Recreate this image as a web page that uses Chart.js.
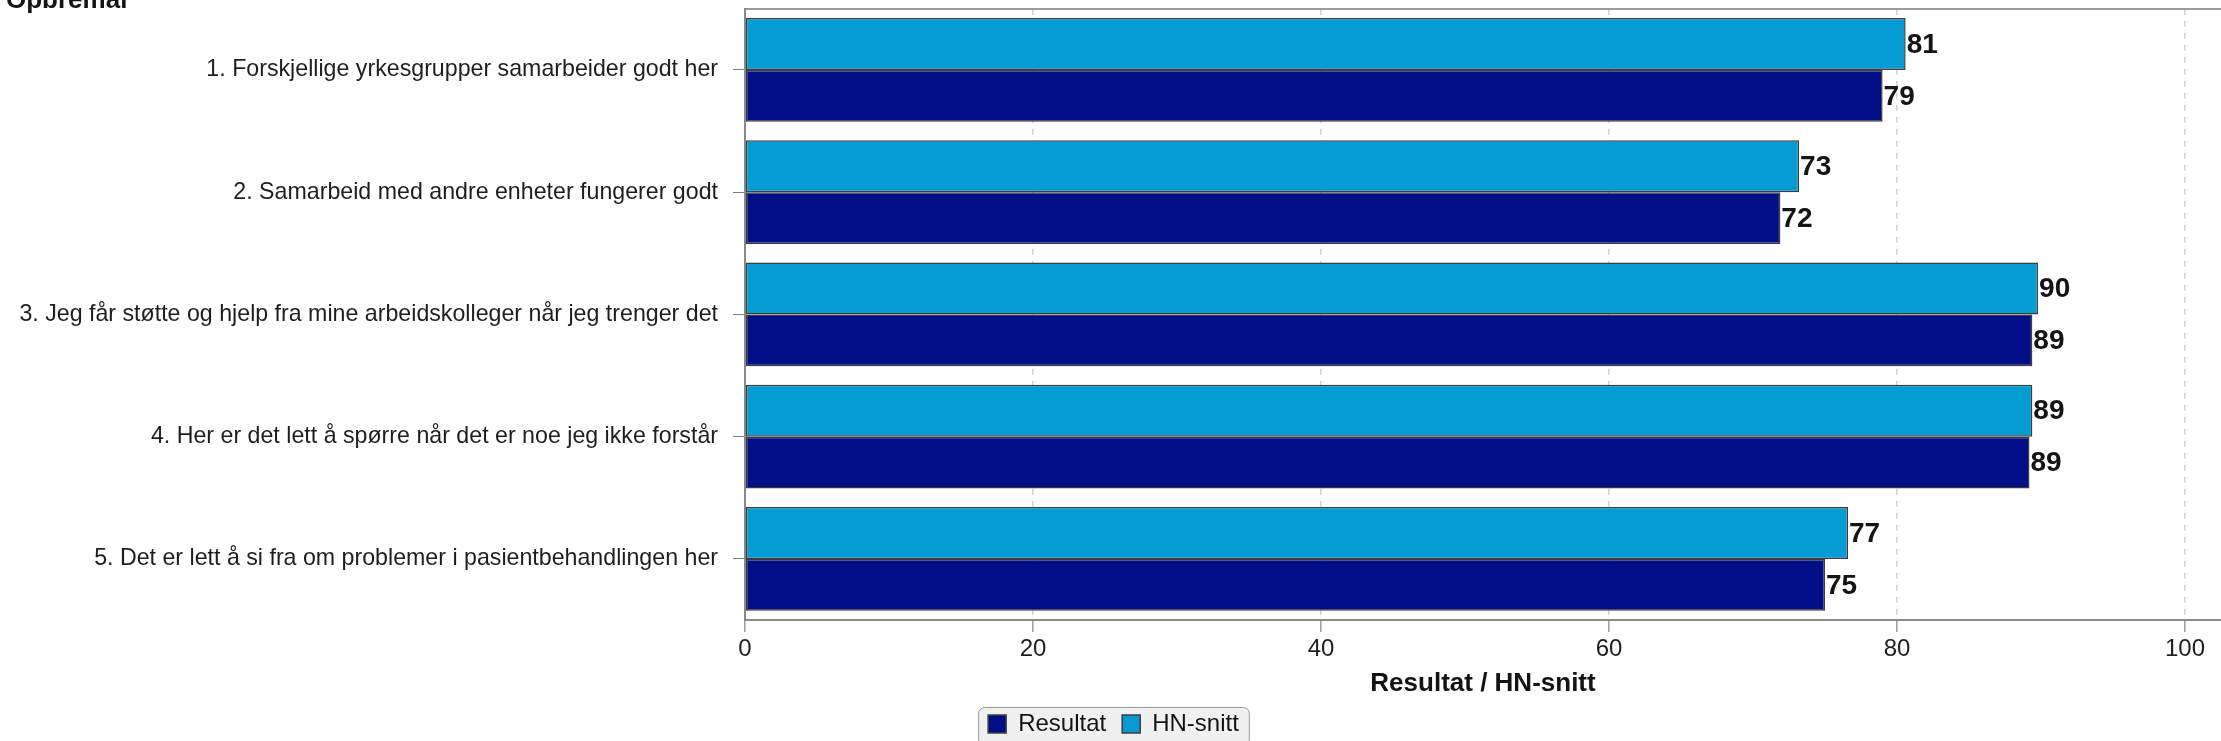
<!DOCTYPE html>
<html>
<head>
<meta charset="utf-8">
<script src="https://cdn.jsdelivr.net/npm/chart.js@4/dist/chart.umd.min.js"></script>
<style>
  html, body { margin: 0; padding: 0; background: #ffffff; overflow: hidden; }
  #wrap { width: 2221px; height: 741px; position: relative; }
  canvas { display: block; }
</style>
</head>
<body>
<div id="wrap"><canvas id="chart"></canvas></div>
<script>
// ---- Data ----
const chartTitle = 'Opbremal';
const categories = [
  '1. Forskjellige yrkesgrupper samarbeider godt her',
  '2. Samarbeid med andre enheter fungerer godt',
  '3. Jeg får støtte og hjelp fra mine arbeidskolleger når jeg trenger det',
  '4. Her er det lett å spørre når det er noe jeg ikke forstår',
  '5. Det er lett å si fra om problemer i pasientbehandlingen her'
];
const seriesNames = ['HN-snitt', 'Resultat'];
const hnSnitt = [80.6, 73.2, 89.8, 89.4, 76.6];
const resultat = [79.0, 71.9, 89.4, 89.2, 75.0];
const xTickValues = [0, 20, 40, 60, 80, 100];
const xMin = 0;
const xMax = 102.5;
const xAxisTitle = 'Resultat / HN-snitt';

// ---- Styling ----
const FONT = '"Liberation Sans", Arial, Helvetica, sans-serif';
const colHN = '#049cd2';
const colRes = '#000f88';
const barBorder = '#3c3c3c';

// Value labels drawn at the library-computed bar ends
const valueLabels = {
  id: 'valueLabels',
  afterDatasetsDraw(chart) {
    const ctx = chart.ctx;
    ctx.save();
    ctx.font = 'bold 28px ' + FONT;
    ctx.fillStyle = '#141414';
    ctx.textAlign = 'left';
    ctx.textBaseline = 'middle';
    chart.data.datasets.forEach((ds, i) => {
      const meta = chart.getDatasetMeta(i);
      meta.data.forEach((el, j) => {
        const p = el.getProps(['x', 'y'], true);
        ctx.fillText(String(Math.round(ds.data[j])), p.x + 1, p.y + 1);
      });
    });
    ctx.restore();
  }
};

// Legend background box (legend itself has no frame option)
const legendFrame = {
  id: 'legendFrame',
  beforeDraw(chart) {
    const lg = chart.legend;
    if (!lg || !lg.legendHitBoxes || !lg.legendHitBoxes.length) return;
    const hb = lg.legendHitBoxes;
    let l = Infinity, r = -Infinity, t = Infinity, b = -Infinity;
    hb.forEach(h => {
      l = Math.min(l, h.left); r = Math.max(r, h.left + h.width);
      t = Math.min(t, h.top); b = Math.max(b, h.top + h.height);
    });
    const x = l - 10, y = t - 5, w = (r - l) + 20, h = (b - t) + 14;
    const ctx = chart.ctx;
    ctx.save();
    ctx.beginPath();
    if (ctx.roundRect) ctx.roundRect(x + 0.5, y + 0.5, w, h, 6); else ctx.rect(x + 0.5, y + 0.5, w, h);
    ctx.fillStyle = '#f0f0f0';
    ctx.fill();
    ctx.lineWidth = 1;
    ctx.strokeStyle = '#9a9a9a';
    ctx.stroke();
    ctx.restore();
  }
};

new Chart(document.getElementById('chart'), {
  type: 'bar',
  data: {
    labels: categories,
    datasets: [
      { label: seriesNames[0], data: hnSnitt, backgroundColor: colHN, borderColor: barBorder, borderWidth: 1.5, borderSkipped: false },
      { label: seriesNames[1], data: resultat, backgroundColor: colRes, borderColor: barBorder, borderWidth: 1.5, borderSkipped: false }
    ]
  },
  options: {
    indexAxis: 'y',
    responsive: true,
    maintainAspectRatio: false,
    animation: false,
    events: [],
    layout: { padding: { left: 6, right: 0, top: -6.8, bottom: -5 } },
    datasets: { bar: { categoryPercentage: 0.85, barPercentage: 1.0 } },
    font: { family: FONT },
    scales: {
      x: {
        type: 'linear',
        position: 'bottom',
        min: xMin,
        max: xMax,
        afterBuildTicks(scale) { scale.ticks = xTickValues.map(v => ({ value: v })); },
        afterFit(scale) { scale.height = 76; scale.paddingLeft = 0; scale.paddingRight = 0; },
        grid: {
          display: true,
          drawOnChartArea: true,
          color: '#d2d2d2',
          lineWidth: 1.5,
          drawTicks: true,
          tickLength: 12,
          tickColor: '#a0a0a0',
          tickWidth: 1.5,
          tickBorderDash: []
        },
        border: { display: true, color: '#8a8a8a', width: 2, dash: [6, 6] },
        ticks: {
          padding: 3,
          color: '#1e1e1e',
          font: { family: FONT, size: 24 },
          maxRotation: 0,
          autoSkip: false
        },
        title: {
          display: true,
          text: xAxisTitle,
          color: '#141414',
          font: { family: FONT, size: 26, weight: 'bold', lineHeight: 0.9 },
          padding: { top: 0, bottom: 0 }
        }
      },
      x2: {
        type: 'linear',
        position: 'top',
        min: xMin,
        max: xMax,
        display: true,
        afterFit(scale) { scale.height = 0; scale.paddingLeft = 0; scale.paddingRight = 0; },
        grid: { display: false, drawTicks: false, drawOnChartArea: false },
        ticks: { display: false },
        border: { display: true, color: '#9a9a9a', width: 2 }
      },
      y: {
        type: 'category',
        position: 'left',
        offset: true,
        afterFit(scale) { scale.width = 739; scale.paddingTop = 0; scale.paddingBottom = 0; },
        grid: {
          display: true,
          drawOnChartArea: false,
          offset: false,
          drawTicks: true,
          tickLength: 12,
          tickColor: '#808080',
          tickWidth: 1,
          color: '#808080'
        },
        border: { display: true, color: '#8a8a8a', width: 2 },
        ticks: {
          padding: 15,
          color: '#1e1e1e',
          font: { family: FONT, size: 23.2 },
          autoSkip: false
        }
      }
    },
    plugins: {
      title: {
        display: true,
        text: chartTitle,
        align: 'start',
        position: 'top',
        color: '#141414',
        font: { family: FONT, size: 26, weight: 'bold', lineHeight: 0.6 },
        padding: 0
      },
      legend: {
        display: true,
        position: 'bottom',
        align: 'center',
        reverse: true,
        labels: {
          boxWidth: 18,
          boxHeight: 18,
          padding: 16,
          color: '#141414',
          font: { family: FONT, size: 24 }
        }
      },
      tooltip: { enabled: false }
    }
  },
  plugins: [legendFrame, valueLabels]
});
</script>
</body>
</html>
